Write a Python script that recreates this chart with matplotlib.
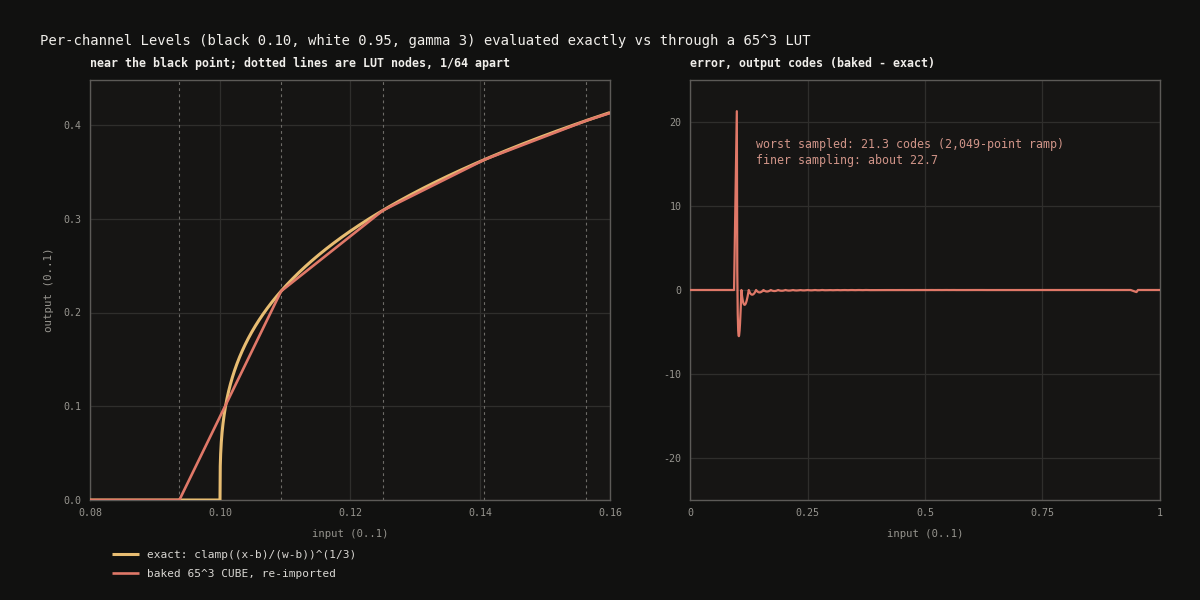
import numpy as np
import matplotlib
matplotlib.use("Agg")
import matplotlib.pyplot as plt

# ---- data / parameters (from the chart's title and legend) ----
black = 0.10
white = 0.95
gamma = 3.0
lut_size = 65            # 65^3 CUBE -> nodes k/64 along each channel
ramp_points = 2049       # sampled ramp
code_scale = 255         # output codes
zoom_range = [0.08, 0.16]
left_xticks = [0.08, 0.10, 0.12, 0.14, 0.16]
left_yticks = [0.0, 0.1, 0.2, 0.3, 0.4]
right_xticks = [0, 0.25, 0.5, 0.75, 1]
right_xticklabels = ["0", "0.25", "0.5", "0.75", "1"]
right_yticks = [-20, -10, 0, 10, 20]
worst_sampled = 21.3
finer_worst = 22.7


def levels(x):
    t = np.clip((np.asarray(x) - black) / (white - black), 0.0, 1.0)
    return t ** (1.0 / gamma)


nodes_x = np.arange(lut_size) / (lut_size - 1)
nodes_y = levels(nodes_x)


def baked(x):
    return np.interp(x, nodes_x, nodes_y)


# ---- style ----
FIG_BG = "#111110"
AX_BG = "#161514"
SPINE = "#5c5a57"
GRID = "#2f2e2c"
TICK = "#97958f"
TEXT = "#f0eeea"
C_EXACT = "#e8bd72"
C_BAKED = "#e07868"
C_NOTE = "#d09488"
MONO = ["DejaVu Sans Mono"]

plt.rcParams["font.family"] = MONO
plt.rcParams["axes.unicode_minus"] = False

fig = plt.figure(figsize=(12, 6), dpi=100, facecolor=FIG_BG)
axL = fig.add_axes([90 / 1200, 100 / 600, 520 / 1200, 420 / 600])
axR = fig.add_axes([690 / 1200, 100 / 600, 470 / 1200, 420 / 600])

for ax in (axL, axR):
    ax.set_facecolor(AX_BG)
    for s in ax.spines.values():
        s.set_color(SPINE)
        s.set_linewidth(1.0)
    ax.tick_params(length=0, colors=TICK, labelsize=7.2, pad=6)
    ax.grid(True, color=GRID, linewidth=0.9)
    ax.set_axisbelow(True)

# ---- left panel ----
x_fine = np.linspace(zoom_range[0], zoom_range[1], 4001)
for nx in nodes_x:
    if zoom_range[0] < nx < zoom_range[1]:
        axL.axvline(nx, color="#6e6c68", linestyle=(0, (2.5, 3)), linewidth=0.8, zorder=1)
axL.plot(x_fine, levels(x_fine), color=C_EXACT, linewidth=2.2, zorder=3,
         label="exact: clamp((x-b)/(w-b))^(1/3)", solid_capstyle="butt")
axL.plot(x_fine, baked(x_fine), color=C_BAKED, linewidth=1.9, zorder=4,
         label="baked 65^3 CUBE, re-imported", solid_capstyle="butt")
axL.set_xlim(*zoom_range)
axL.set_ylim(0, 0.448)
axL.set_xticks(left_xticks)
axL.set_xticklabels([f"{v:.2f}" for v in left_xticks])
axL.set_yticks(left_yticks)
axL.set_yticklabels([f"{v:.1f}" for v in left_yticks])
axL.set_xlabel("input (0..1)", color=TICK, fontsize=7.6, labelpad=8)
axL.set_ylabel("output (0..1)", color=TICK, fontsize=7.8, labelpad=7)
axL.set_title("near the black point; dotted lines are LUT nodes, 1/64 apart",
              loc="left", color=TEXT, fontsize=8.4, fontweight="bold", pad=9)

leg = axL.legend(loc="upper left", bbox_to_anchor=(0.034, -0.108), frameon=False,
                 fontsize=8.0, handlelength=2.4, handletextpad=0.7, labelspacing=0.85,
                 borderaxespad=0)
for t in leg.get_texts():
    t.set_color("#d8d6d2")

# ---- right panel ----
x_ramp = np.arange(ramp_points) / (ramp_points - 1)
err = (baked(x_ramp) - levels(x_ramp)) * code_scale
axR.plot(x_ramp, err, color=C_BAKED, linewidth=1.6, zorder=3)
axR.set_xlim(0, 1)
axR.set_ylim(-25, 25)
axR.set_xticks(right_xticks)
axR.set_xticklabels(right_xticklabels)
axR.set_yticks(right_yticks)
axR.set_xlabel("input (0..1)", color=TICK, fontsize=7.6, labelpad=8)
axR.set_title("error, output codes (baked - exact)",
              loc="left", color=TEXT, fontsize=8.4, fontweight="bold", pad=9)
axR.text(0.14, 16.4,
         f"worst sampled: {worst_sampled:.1f} codes ({ramp_points:,}-point ramp)\n"
         f"finer sampling: about {finer_worst:.1f}",
         color=C_NOTE, fontsize=8.4, va="center", ha="left", linespacing=1.3)

fig.text(40 / 1200, 1 - 41 / 600,
         "Per-channel Levels (black 0.10, white 0.95, gamma 3) evaluated exactly vs through a 65^3 LUT",
         color=TEXT, fontsize=10.0, ha="left", va="center")

fig.savefig("out.png", dpi=100, facecolor=FIG_BG)
